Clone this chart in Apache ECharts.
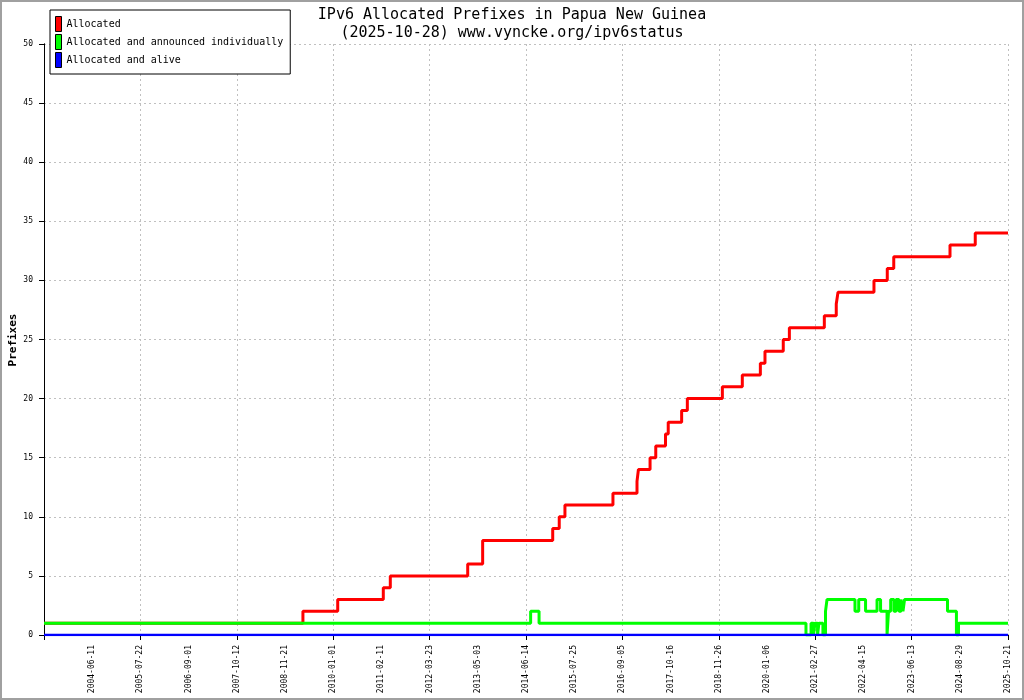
<!DOCTYPE html>
<html lang="en">

<head>
    <meta charset="UTF-8">
    <title>IPv6 Allocated Prefixes in Papua New Guinea</title>
    <script src="https://cdn.jsdelivr.net/npm/echarts@6.0.0/dist/echarts.min.js"></script>
    <style>
        html, body { margin: 0; padding: 0; background: #fff; }
        #chart { width: 1024px; height: 700px; }
    </style>
</head>

<body>
    <div id="chart"></div>
    <script>
        // x axis tick dates; index 0 is the unlabelled axis start
        var tickDates = ['2003-04-28', '2004-06-11', '2005-07-22', '2006-09-01', '2007-10-12',
            '2008-11-21', '2010-01-01', '2011-02-11', '2012-03-23', '2013-05-03', '2014-06-14',
            '2015-07-25', '2016-09-05', '2017-10-16', '2018-11-26', '2020-01-06', '2021-02-27',
            '2022-04-15', '2023-06-13', '2024-08-29', '2025-10-21'];

        // [date the value starts, number of prefixes]
        var allocated = [
            ['2003-04-28', 1], ['2009-04-21', 2], ['2010-02-08', 3], ['2011-02-27', 4],
            ['2011-04-27', 5], ['2013-02-07', 6], ['2013-06-13', 8], ['2015-01-25', 9],
            ['2015-03-21', 10], ['2015-05-08', 11], ['2016-06-17', 12], ['2017-01-06', 13],
            ['2017-01-18', 14], ['2017-04-26', 15], ['2017-06-13', 16], ['2017-09-03', 17],
            ['2017-09-26', 18], ['2018-01-17', 19], ['2018-03-06', 20], ['2018-12-26', 21],
            ['2019-06-12', 22], ['2019-11-11', 23], ['2019-12-20', 24], ['2020-05-26', 25],
            ['2020-07-18', 26], ['2021-05-16', 27], ['2021-08-26', 28], ['2021-09-10', 29],
            ['2022-07-17', 30], ['2022-11-11', 31], ['2023-01-07', 32], ['2024-05-31', 33],
            ['2025-01-10', 34], ['2025-10-21', 34]
        ];

        var announced = [
            ['2003-04-28', 1], ['2014-07-23', 2], ['2014-10-02', 1], ['2020-12-09', 0],
            ['2021-01-22', 1], ['2021-02-12', 0], ['2021-02-25', 1], ['2021-03-19', 0],
            ['2021-03-31', 1], ['2021-05-04', 0], ['2021-05-26', 2], ['2021-06-08', 3],
            ['2022-02-02', 2], ['2022-03-06', 3], ['2022-05-04', 2], ['2022-08-13', 3],
            ['2022-09-13', 2], ['2022-11-09', 0], ['2022-11-22', 2], ['2022-12-11', 3],
            ['2023-01-09', 2], ['2023-01-27', 3], ['2023-02-22', 2], ['2023-03-12', 3],
            ['2023-03-29', 2], ['2023-04-12', 3], ['2024-05-08', 2], ['2024-07-29', 0],
            ['2024-08-17', 1], ['2025-10-21', 1]
        ];

        var alive = [['2003-04-28', 0], ['2025-10-21', 0]];

        var seriesNames = ['Allocated', 'Allocated and announced individually', 'Allocated and alive'];
        var seriesColors = ['#ff0000', '#00ff00', '#0000ff'];

        var font = 'DejaVu Sans Mono';
        var tickTimes = tickDates.map(function(d) { return Date.parse(d); });

        // position of a date along the axis, linear between the labelled ticks
        function pos(d) {
            var t = Date.parse(d);
            for (var i = 0; i < tickTimes.length - 1; i++) {
                if (t <= tickTimes[i + 1]) {
                    return i + (t - tickTimes[i]) / (tickTimes[i + 1] - tickTimes[i]);
                }
            }
            return tickTimes.length - 1;
        }

        function toPoints(list) {
            return list.map(function(p) { return [pos(p[0]), p[1]]; });
        }

        var chart = echarts.init(document.getElementById('chart'));
        chart.setOption({
            animation: false,
            backgroundColor: '#fff',
            title: {
                text: 'IPv6 Allocated Prefixes in Papua New Guinea\n(2025-10-28) www.vyncke.org/ipv6status',
                left: 'center',
                top: 1,
                textStyle: {
                    fontFamily: font,
                    fontSize: 15,
                    fontWeight: 'normal',
                    lineHeight: 18,
                    color: '#000'
                }
            },
            legend: {
                orient: 'vertical',
                left: 50,
                top: 10,
                padding: [6, 7, 6, 5],
                itemWidth: 6,
                itemHeight: 15,
                itemGap: 2,
                icon: 'rect',
                backgroundColor: '#fff',
                borderColor: '#000',
                borderWidth: 1,
                borderRadius: 0,
                itemStyle: { borderColor: '#000', borderWidth: 1 },
                textStyle: { fontFamily: font, fontSize: 10, color: '#000' },
                data: seriesNames
            },
            grid: { left: 44, right: 16, top: 44, bottom: 65, containLabel: false, outerBoundsMode: 'none' },
            xAxis: [{
                type: 'value',
                min: 0,
                max: tickDates.length - 1,
                interval: 1,
                axisLine: { show: false },
                axisTick: { show: false },
                splitLine: { show: false },
                axisLabel: {
                    rotate: 90,
                    margin: 10,
                    fontFamily: font,
                    fontSize: 8,
                    color: '#000',
                    formatter: function(v) {
                        var i = Math.round(v);
                        return i > 0 ? tickDates[i] : '';
                    }
                }
            }, {
                type: 'value',
                position: 'bottom',
                min: 0,
                max: tickDates.length - 1,
                interval: 2,
                axisLine: { show: true, lineStyle: { color: '#000', width: 1 } },
                axisTick: { show: true, length: 5, lineStyle: { color: '#000' } },
                axisLabel: { show: false },
                splitLine: { show: true, lineStyle: { color: '#c0c0c0', type: [2, 3], width: 1 } }
            }],
            yAxis: [{
                type: 'value',
                min: 0,
                max: 50,
                interval: 5,
                axisLine: { show: true, lineStyle: { color: '#000', width: 1 } },
                axisTick: { show: true, length: 5, lineStyle: { color: '#000' } },
                axisLabel: { margin: 11, fontFamily: font, fontSize: 8, color: '#000' },
                splitLine: { show: true, lineStyle: { color: '#c0c0c0', type: [2, 3], width: 1 } }
            }, {
                type: 'value',
                position: 'right',
                min: 0,
                max: 50,
                interval: 5,
                axisLine: { show: true, lineStyle: { color: '#000', width: 1 } },
                axisTick: { show: false },
                axisLabel: { show: false },
                splitLine: { show: false }
            }],
            graphic: [{
                type: 'rect',
                shape: { x: 1, y: 1, width: 1022, height: 698 },
                style: { fill: 'none', stroke: '#a0a0a0', lineWidth: 2 },
                silent: true
            }, {
                // y axis title
                type: 'text',
                x: 13,
                y: 340,
                rotation: Math.PI / 2,
                silent: true,
                style: {
                    text: 'Prefixes',
                    fill: '#000',
                    font: 'bold 11px "DejaVu Sans Mono"',
                    align: 'center',
                    verticalAlign: 'middle'
                }
            }],
            series: [allocated, announced, alive].map(function(list, i) {
                return {
                    name: seriesNames[i],
                    type: 'line',
                    step: 'end',
                    symbol: 'none',
                    z: 2 + i,
                    color: seriesColors[i],
                    itemStyle: { color: seriesColors[i] },
                    lineStyle: { color: seriesColors[i], width: i === 2 ? 2.5 : 3 },
                    data: toPoints(list)
                };
            })
        });
    </script>
</body>

</html>
